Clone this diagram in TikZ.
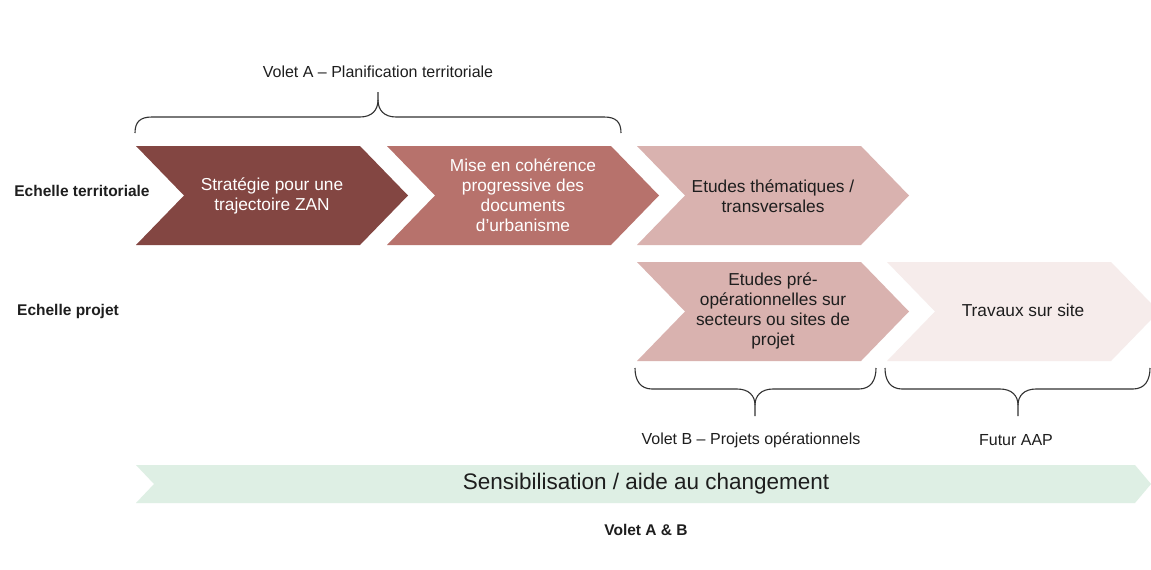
\documentclass[tikz,border=0pt]{standalone}
\usepackage{fontspec}
\setmainfont{Liberation Sans}
\definecolor{cA}{RGB}{131,70,66}
\definecolor{cB}{RGB}{183,114,108}
\definecolor{cC}{RGB}{217,178,175}
\definecolor{cD}{RGB}{246,236,235}
\definecolor{cG}{RGB}{222,239,228}
\definecolor{txt}{RGB}{30,30,30}
\definecolor{brc}{RGB}{50,50,50}
\newcommand\mychev[3]{\fill[#3] (#1,#2) -- ++(224,0) -- ++(48,49.5) -- ++(-48,49.5) -- ++(-224,0) -- ++(48,-49.5) -- cycle;}
\begin{document}
\begin{tikzpicture}[x=1pt,y=-1pt,
  chevtxt/.style={align=center,inner sep=0pt,text=txt,font=\fontsize{17.3}{20}\selectfont},
  lbl/.style={inner sep=0pt,text=txt,font=\fontsize{16}{19}\selectfont},
  rowlbl/.style={inner sep=0pt,text=txt,font=\fontsize{15.5}{19}\selectfont\bfseries},
  bracepath/.style={draw=brc,line width=1.1pt}]
\clip (0,0) rectangle (1151,570);
\fill[white] (0,0) rectangle (1151,570);
% chevrons
\mychev{136}{146}{cA}
\mychev{387}{146}{cB}
\mychev{637}{146}{cC}
\mychev{637}{262}{cC}
\mychev{887}{262}{cD}
% green band
\fill[cG] (136,465) -- (1135,465) -- (1151,484) -- (1135,503) -- (136,503) -- (154,484) -- cycle;
% chevron texts
\node[chevtxt,text=white] (t1) at (272,196) {Stratégie pour une\\trajectoire ZAN};
\node[chevtxt,text=white] (t2) at (523,195) {Mise en cohérence\\progressive des\\documents\\d’urbanisme};
\node[chevtxt] (t3) at (773,196) {Etudes thématiques /\\transversales};
\node[chevtxt] (t4) at (773,311) {Etudes pré-\\opérationnelles sur\\secteurs ou sites de\\projet};
\node[chevtxt] (t5) at (1023,310) {Travaux sur site};
\node[lbl,font=\fontsize{22.5}{26}\selectfont] (sens) at (646,484) {Sensibilisation / aide au changement};
% row labels
\node[rowlbl] (er) at (82,191) {Echelle territoriale};
\node[rowlbl] (ep) at (68,311) {Echelle projet};
\node[rowlbl] (vab) at (646,530) {Volet A \& B};
% brace labels
\node[lbl] (va) at (378,72) {Volet A – Planification territoriale};
\node[lbl] (vb) at (751,440) {Volet B – Projets opérationnels};
\node[lbl] (aap) at (1016,440) {Futur AAP};
% top brace
\draw[bracepath] (135,133) .. controls (135,122) and (140,117) .. (152,117) -- (360,117) .. controls (372,117) and (378,110) .. (378,100) -- (378,92);
\draw[bracepath] (621,133) .. controls (621,122) and (616,117) .. (604,117) -- (396,117) .. controls (384,117) and (378,110) .. (378,100);
% bottom brace 1
\draw[bracepath] (635,368) .. controls (635,380) and (640,389) .. (652,389) -- (737,389) .. controls (749,389) and (755,396) .. (755,405) -- (755,416);
\draw[bracepath] (876,368) .. controls (876,380) and (871,389) .. (859,389) -- (773,389) .. controls (761,389) and (755,396) .. (755,405);
% bottom brace 2
\draw[bracepath] (885,368) .. controls (885,380) and (890,389) .. (902,389) -- (1000,389) .. controls (1012,389) and (1018,396) .. (1018,405) -- (1018,416);
\draw[bracepath] (1150,368) .. controls (1150,380) and (1145,389) .. (1133,389) -- (1036,389) .. controls (1024,389) and (1018,396) .. (1018,405);
\end{tikzpicture}
\end{document}
